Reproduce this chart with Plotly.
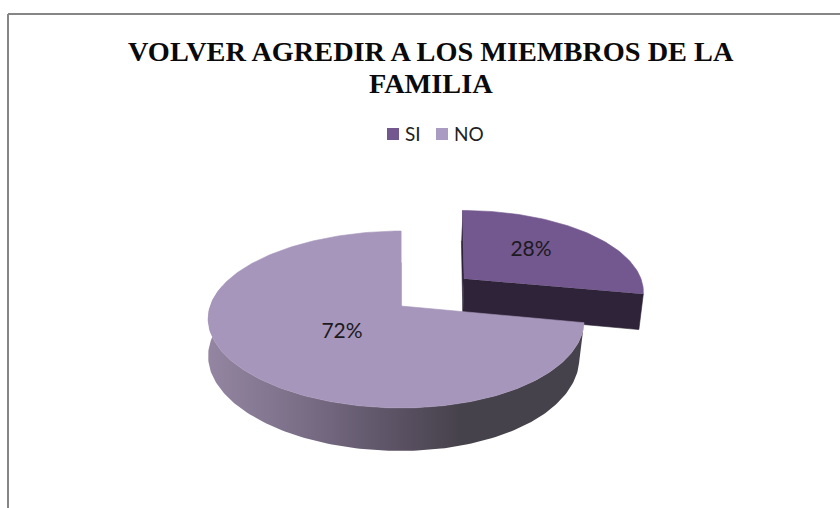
import numpy as np
import plotly.graph_objects as go

categories = ["SI", "NO"]
values = [28, 72]
title_lines = ["VOLVER AGREDIR A LOS MIEMBROS DE LA", "FAMILIA"]

TOP = {"SI": "#73578F", "NO": "#A696BB"}
SIDE_SI = "#2E2338"
INNER_NO = "#6D6478"
LEGEND = {"SI": "#73578F", "NO": "#A99BC2"}
GRAD_STOPS = [[0.0, "rgb(148,134,162)"], [0.25, "rgb(122,110,135)"], [0.51, "rgb(90,81,99)"],
              [0.67, "rgb(70,66,75)"], [1.0, "rgb(70,66,75)"]]

# projection of the pie plane into pixels
X0, Y0, A, B, K = 396, 306, 185.8, 86.4, 0.1525
DEPTH = 36.4
# explosion offset, bow, shear and lower-rim shrink per slice
STYLE = {"SI": dict(u0=0.385, v0=0.33, bow=0, shear=7, shrink=0.982),
         "NO": dict(u0=0.0, v0=0.0, bow=5, shear=0, shrink=0.975)}


def project(lu, lv, st, lower=False):
    lu, lv = np.asarray(lu, float), np.asarray(lv, float)
    u, v = lu + st["u0"], lv + st["v0"]
    w = 1 + K * v
    dx = A * u / w
    if lower:
        dx = np.where(dx > 0, dx * st["shrink"], dx)
    x = X0 + dx + st["bow"] * (1 - np.clip(lu, -1, 1) ** 2) + st["shear"] * lv
    y = Y0 - B * v / w + (DEPTH / w if lower else 0)
    return x, y


def poly(fig, x, y, color):
    fig.add_trace(go.Scatter(x=list(x), y=list(y), mode="lines", fill="toself",
                             fillcolor=color, line=dict(color=color, width=0.6),
                             hoverinfo="skip", showlegend=False))


fig = go.Figure()
total = sum(values)
a_si = 2 * np.pi * values[0] / total

# exploded SI slice, behind
st = STYLE["SI"]
th = np.linspace(0, a_si, 80)
xu, yu = project(np.sin(th), np.cos(th), st)
xl, yl = project(np.sin(th), np.cos(th), st, lower=True)
ax, ay = project([0], [0], st)
bx, by = project([0], [0], st, lower=True)
poly(fig, [xu[0], ax[0], bx[0], xl[0]], [yu[0], ay[0], by[0], yl[0]], SIDE_SI)
poly(fig, [ax[0], xu[-1], xl[-1], bx[0]], [ay[0], yu[-1], yl[-1], by[0]], SIDE_SI)
poly(fig, np.r_[ax, xu], np.r_[ay, yu], TOP["SI"])

# NO slice
st = STYLE["NO"]
th = np.linspace(a_si, 2 * np.pi, 240)
xu, yu = project(np.sin(th), np.cos(th), st)
xl, yl = project(np.sin(th), np.cos(th), st, lower=True)
ax, ay = project([0], [0], st)
bx, by = project([0], [0], st, lower=True)
poly(fig, [xu[-1], ax[0], bx[0], xl[-1]], [yu[-1], ay[0], by[0], yl[-1]], INNER_NO)
vis = th <= np.radians(285)
fig.add_trace(go.Scatter(x=list(np.r_[xu[vis], xl[vis][::-1]]), y=list(np.r_[yu[vis], yl[vis][::-1]]),
                         mode="lines", fill="toself", line=dict(width=0),
                         fillgradient=dict(type="horizontal", colorscale=GRAD_STOPS),
                         hoverinfo="skip", showlegend=False))
poly(fig, np.r_[ax, xu], np.r_[ay, yu], TOP["NO"])

# percent labels
fig.add_trace(go.Scatter(x=[531, 342], y=[251, 333], mode="text",
                         text=[f"{v}%" for v in values], hoverinfo="skip", showlegend=False,
                         textfont=dict(family="Lato", size=21, color="#1C1A20")))

# legend
fig.add_trace(go.Scatter(x=[393, 442], y=[134, 134], mode="markers",
                         marker=dict(symbol="square", size=12, color=[LEGEND[c] for c in categories]),
                         hoverinfo="skip", showlegend=False))
fig.add_trace(go.Scatter(x=[405, 454], y=[136, 136], mode="text",
                         text=categories, textposition="middle right",
                         textfont=dict(family="Lato", size=19, color="#222222"),
                         hoverinfo="skip", showlegend=False))

fig.update_layout(
    width=840, height=508, margin=dict(l=0, r=0, t=0, b=0),
    paper_bgcolor="white", plot_bgcolor="white", showlegend=False,
    xaxis=dict(range=[0, 840], visible=False, fixedrange=True),
    yaxis=dict(range=[508, 0], visible=False, fixedrange=True),
    annotations=[dict(text=t, x=431, y=yy, xref="x", yref="y", showarrow=False,
                      xanchor="center", yanchor="middle",
                      font=dict(family="Liberation Serif", size=28.3, color="#0A0A0A", weight="bold"))
                 for t, yy in zip(title_lines, [51, 83])],
    shapes=[dict(type="line", x0=8, x1=840, y0=14, y1=14, line=dict(color="#868686", width=2)),
            dict(type="line", x0=8, x1=8, y0=14, y1=508, line=dict(color="#868686", width=2))],
)
fig.write_html("out.html", config={"displayModeBar": False},
               post_script="document.body.style.margin='0';document.body.style.overflow='hidden';")
